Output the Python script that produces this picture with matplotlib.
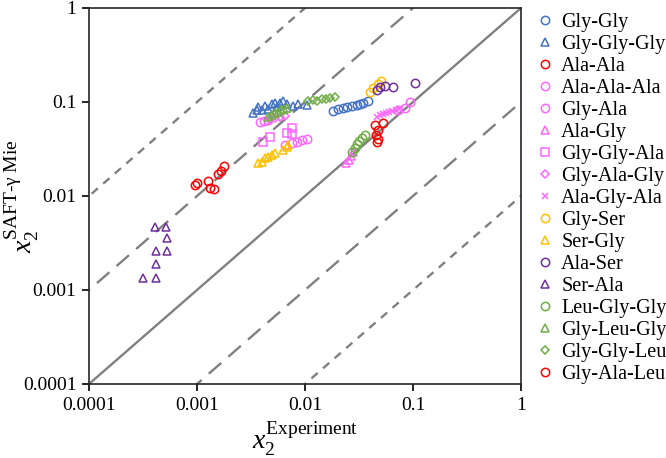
import matplotlib
matplotlib.use('Agg')
import matplotlib.pyplot as plt
import numpy as np

plt.rcParams['font.family'] = ['Liberation Serif', 'DejaVu Serif']
plt.rcParams['mathtext.fontset'] = 'custom'
plt.rcParams['mathtext.rm'] = 'Liberation Serif'
plt.rcParams['mathtext.it'] = 'Liberation Serif:italic'

# ---------------------------------------------------------------
# data (x = experiment, y = SAFT-gamma Mie)
# ---------------------------------------------------------------
gly_gly_x = [0.0182, 0.0202, 0.0225, 0.0245, 0.0272, 0.0303, 0.0323, 0.0344, 0.0383]
gly_gly_y = [0.080, 0.084, 0.086, 0.088, 0.091, 0.093, 0.095, 0.098, 0.102]

gly_gly_gly_x = [0.0033, 0.0036, 0.0037, 0.0040, 0.0043, 0.0045, 0.0049, 0.0053,
                 0.0055, 0.0059, 0.0063, 0.0068, 0.0077, 0.0086, 0.0104]
gly_gly_gly_y = [0.076, 0.082, 0.089, 0.082, 0.091, 0.084, 0.095, 0.098,
                 0.089, 0.098, 0.103, 0.095, 0.091, 0.095, 0.093]

ala_ala_x = [0.00096, 0.0010, 0.00126, 0.00132, 0.00144, 0.00156, 0.00167, 0.00178]
ala_ala_y = [0.0131, 0.0137, 0.0144, 0.0122, 0.0119, 0.0171, 0.0184, 0.0208]

ala_ala_ala_x = [0.0038, 0.0042, 0.0045, 0.0726, 0.0843, 0.0938]
ala_ala_ala_y = [0.0613, 0.0628, 0.0643, 0.082, 0.086, 0.100]

gly_ala_x = [0.0065, 0.0076, 0.0084, 0.0094, 0.0104]
gly_ala_y = [0.0349, 0.0366, 0.0375, 0.0393, 0.0402]

ala_gly_x = [0.0240, 0.0255, 0.0267, 0.0278]
ala_gly_y = [0.0224, 0.0241, 0.0267, 0.0294]

gly_gly_ala_x = [0.0041, 0.0047, 0.0068, 0.0076, 0.0076]
gly_gly_ala_y = [0.0375, 0.0424, 0.0468, 0.0529, 0.0457]

gly_ala_gly_x = [0.0047, 0.0053, 0.0059, 0.0065]
gly_ala_gly_y = [0.066, 0.0676, 0.0692, 0.0709]

ala_gly_ala_x = [0.0464, 0.0497, 0.0527, 0.0562, 0.060, 0.064, 0.0697, 0.0742]
ala_gly_ala_y = [0.0692, 0.0728, 0.0746, 0.0764, 0.078, 0.080, 0.082, 0.084]

gly_ser_x = [0.040, 0.0426, 0.0474, 0.0506]
gly_ser_y = [0.128, 0.141, 0.155, 0.167]

ser_gly_x = [0.0037, 0.0040, 0.0043, 0.0045, 0.0049, 0.0053, 0.0063, 0.0068, 0.0070]
ser_gly_y = [0.0224, 0.0229, 0.0254, 0.026, 0.0272, 0.0286, 0.0307, 0.0331, 0.0348]

ala_ser_x = [0.0464, 0.0497, 0.0551, 0.0653, 0.1044]
ala_ser_y = [0.134, 0.145, 0.148, 0.145, 0.159]

ser_ala_x = [0.000408, 0.000516, 0.000527, 0.000417, 0.000527, 0.000417, 0.000316, 0.000417]
ser_ala_y = [0.00468, 0.00468, 0.00357, 0.0026, 0.0026, 0.00189, 0.00134, 0.00134]

leu_gly_gly_x = [0.0272, 0.029, 0.0303, 0.0316, 0.0337, 0.036]
leu_gly_gly_y = [0.0294, 0.0324, 0.0357, 0.0385, 0.0414, 0.0445]

gly_leu_gly_x = [0.00454, 0.00494, 0.00527, 0.0056, 0.0060, 0.0064, 0.0068]
gly_leu_gly_y = [0.0692, 0.0728, 0.0764, 0.078, 0.082, 0.0843, 0.0863]

gly_gly_leu_x = [0.0107, 0.0119, 0.0129, 0.0144, 0.0156, 0.017, 0.019]
gly_gly_leu_y = [0.1025, 0.105, 0.1025, 0.1075, 0.1075, 0.110, 0.113]

gly_ala_leu_x = [0.0445, 0.0527, 0.0474, 0.0454, 0.0474, 0.0464]
gly_ala_leu_y = [0.0569, 0.0597, 0.0504, 0.0445, 0.0404, 0.0375]

blue = '#4472C4'
red = '#FF0000'
pink = '#FF66FF'
orange = '#FFC000'
purple = '#7030A0'
green = '#70AD47'

series = [
    ('Gly-Gly', gly_gly_x, gly_gly_y, 'o', blue),
    ('Gly-Gly-Gly', gly_gly_gly_x, gly_gly_gly_y, '^', blue),
    ('Ala-Ala', ala_ala_x, ala_ala_y, 'o', red),
    ('Ala-Ala-Ala', ala_ala_ala_x, ala_ala_ala_y, 'o', pink),
    ('Gly-Ala', gly_ala_x, gly_ala_y, 'o', pink),
    ('Ala-Gly', ala_gly_x, ala_gly_y, '^', pink),
    ('Gly-Gly-Ala', gly_gly_ala_x, gly_gly_ala_y, 's', pink),
    ('Gly-Ala-Gly', gly_ala_gly_x, gly_ala_gly_y, 'D', pink),
    ('Ala-Gly-Ala', ala_gly_ala_x, ala_gly_ala_y, 'x', pink),
    ('Gly-Ser', gly_ser_x, gly_ser_y, 'o', orange),
    ('Ser-Gly', ser_gly_x, ser_gly_y, '^', orange),
    ('Ala-Ser', ala_ser_x, ala_ser_y, 'o', purple),
    ('Ser-Ala', ser_ala_x, ser_ala_y, '^', purple),
    ('Leu-Gly-Gly', leu_gly_gly_x, leu_gly_gly_y, 'o', green),
    ('Gly-Leu-Gly', gly_leu_gly_x, gly_leu_gly_y, '^', green),
    ('Gly-Gly-Leu', gly_gly_leu_x, gly_gly_leu_y, 'D', green),
    ('Gly-Ala-Leu', gly_ala_leu_x, gly_ala_leu_y, 'o', red),
]


def main():
    fig = plt.figure(figsize=(6.66, 4.58), dpi=100)
    ax = fig.add_axes([89 / 666, 1 - 384 / 458, 432 / 666, 376 / 458])

    # parity lines
    ref = np.array([1e-6, 1e2])
    ax.plot(ref, ref, color='#808080', lw=1.7, zorder=1)
    ax.plot(ref, ref * 10, color='#808080', lw=1.7, dashes=(7, 4), zorder=1)
    ax.plot(ref, ref / 10, color='#808080', lw=1.7, dashes=(7, 4), zorder=1)
    ax.plot(ref, ref * 100, color='#808080', lw=1.7, dashes=(3.5, 3), zorder=1)
    ax.plot(ref, ref / 100, color='#808080', lw=1.7, dashes=(3.5, 3), zorder=1)

    for name, xs, ys, mk, col in series:
        ms = 6 if mk in ('o', '^', 's') else 4.5
        if mk == 'x':
            ax.plot(xs, ys, ls='none', marker=mk, ms=5, mew=1.1, color=col, label=name, zorder=3)
        else:
            ax.plot(xs, ys, ls='none', marker=mk, ms=ms, mew=1.1, mfc='none', mec=col,
                    label=name, zorder=3)

    ax.set_xscale('log')
    ax.set_yscale('log')
    ax.set_xlim(1e-4, 1)
    ax.set_ylim(1e-4, 1)
    ticks = [0.0001, 0.001, 0.01, 0.1, 1]
    labels = ['0.0001', '0.001', '0.01', '0.1', '1']
    ax.set_xticks(ticks)
    ax.set_xticklabels(labels)
    ax.set_yticks(ticks)
    ax.set_yticklabels(labels)
    ax.minorticks_off()
    ax.tick_params(direction='out', length=5, width=1.2, labelsize=14, pad=4)
    for sp in ax.spines.values():
        sp.set_linewidth(1.2)
        sp.set_color('#262626')

    ax.set_xlabel(r'$x_2^{\mathrm{Experiment}}$', fontsize=20, labelpad=5)
    ax.set_ylabel(r'$x_2^{\mathrm{SAFT\text{-}\gamma\ Mie}}$', fontsize=20)
    ax.yaxis.set_label_coords(-0.112, 0.5)

    fig.legend(loc='upper left', bbox_to_anchor=(537 / 666, 1 - 13 / 458), frameon=False,
               fontsize=14.5, handlelength=0.8, handletextpad=0.4, labelspacing=0.145,
               borderaxespad=0, borderpad=0)

    fig.savefig('out.png', dpi=100)


if __name__ == '__main__':
    main()
